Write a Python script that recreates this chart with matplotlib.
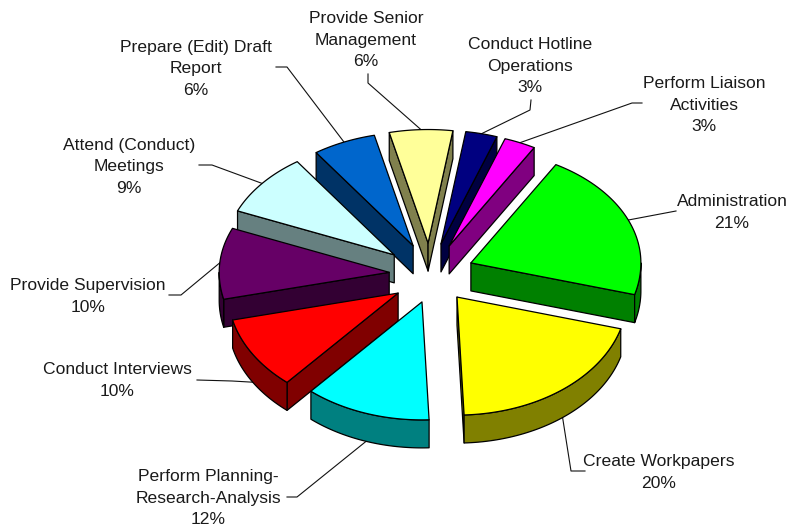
import numpy as np
import matplotlib
matplotlib.use("Agg")
import matplotlib.pyplot as plt

plt.rcParams['font.family'] = ['Liberation Sans', 'DejaVu Sans']

# ============ data ===================
names = ["Administration", "Create Workpapers", "Perform Planning-\nResearch-Analysis",
         "Conduct Interviews", "Provide Supervision", "Attend (Conduct)\nMeetings",
         "Prepare (Edit) Draft\nReport", "Provide Senior\nManagement",
         "Conduct Hotline\nOperations", "Perform Liaison\nActivities"]
values = [21, 20, 12, 10, 10, 9, 6, 6, 3, 3]
explode_x = [0.96, 0.945, 0.53, 0.81, 0.89, 1.0, 0.9, 1.0, 1.0, 1.0]
explode_y = [1.0, 0.88, 0.89, 1.09, 1.0, 1.0, 1.0, 1.0, 1.0, 1.0]
top_colors = ["#00ff00", "#ffff00", "#00ffff", "#ff0000", "#660066",
              "#ccffff", "#0066cc", "#ffff99", "#000080", "#ff00ff"]
side_colors = ["#008000", "#808000", "#008080", "#800000", "#330033",
               "#668080", "#003366", "#80804d", "#000040", "#800080"]

# label centre (x, first line y) and the leader's elbow points, pixels
label_pos = [(732, 200), (659, 460), (208, 475), (117, 368), (88, 284),
             (129, 144), (196, 46), (366, 17), (530, 43), (704, 82)]
leader_ends = [[(676, 211)], [(571, 471), (585, 471)], [(297, 497), (287, 497)],
               [(232, 381), (197, 380)], [(181, 295), (169, 295)], [(212, 165), (199, 165)],
               [(287, 67), (276, 67)], [(368, 83), (368, 74)],
               [(530, 110), (531, 100)], [(632, 103), (642, 103)]]

# ============ pie geometry ===================
CX, CY = 430, 275
RX = 170
RY_BACK, RY_FRONT = 113.5, 118  # the near half of the pie looks a bit deeper
EX, EY = 46, 32
DEPTH = 28
START = 30.0
LINE_H = 21.5
EDGE = "#000000"


def ell(t, ax0, ay0):
    r = np.radians(t)
    c = np.cos(r)
    return ax0 + RX * np.sin(r), ay0 - np.where(c > 0, RY_BACK, RY_FRONT) * c


fig = plt.figure(figsize=(7.87, 5.26), dpi=100)
ax = fig.add_axes([0, 0, 1, 1])
ax.set_xlim(0, 787)
ax.set_ylim(526, 0)
ax.axis("off")

angles = START + np.concatenate([[0], np.cumsum(values)]) * 3.6
mids = (angles[:-1] + angles[1:]) / 2

# back slices first so the front ones paint over them
order = np.argsort(-np.cos(np.radians(mids)))
for z, i in enumerate(order):
    t1, t2 = angles[i], angles[i + 1]
    mr = np.radians(mids[i])
    ax0 = CX + explode_x[i] * EX * np.sin(mr)
    ay0 = CY - explode_y[i] * EY * np.cos(mr)
    kw = dict(edgecolor=EDGE, linewidth=0.9, joinstyle="round", zorder=z + 2)

    # radial walls
    if np.sin(np.radians(t1)) < 0:
        px, py = ell(t1, ax0, ay0)
        ax.fill([ax0, px, px, ax0], [ay0, py, py + DEPTH, ay0 + DEPTH], facecolor=side_colors[i], **kw)
    if np.sin(np.radians(t2)) > 0:
        px, py = ell(t2, ax0, ay0)
        ax.fill([ax0, px, px, ax0], [ay0, py, py + DEPTH, ay0 + DEPTH], facecolor=side_colors[i], **kw)

    # outer rim, only the part facing the front
    lo, hi = max(t1, 90), min(t2, 270)
    if hi > lo:
        ts = np.linspace(lo, hi, 60)
        rx, ry = ell(ts, ax0, ay0)
        ax.fill(np.r_[rx, rx[::-1]], np.r_[ry, ry[::-1] + DEPTH], facecolor=side_colors[i], **kw)

    # top face
    ts = np.linspace(t1, t2, 60)
    rx, ry = ell(ts, ax0, ay0)
    ax.fill(np.r_[ax0, rx], np.r_[ay0, ry], facecolor=top_colors[i], **kw)

    # leader line from the middle of the arc out to the label
    sx, sy = ell(mids[i], ax0, ay0)
    if np.cos(mr) < 0:
        sy += DEPTH
    pts = [(float(sx), float(sy))] + leader_ends[i]
    ax.plot([p[0] for p in pts], [p[1] for p in pts], color="#111111", lw=0.8, zorder=1)

    # label lines
    lx, ly = label_pos[i]
    lines = names[i].split("\n") + [f"{values[i]}%"]
    for k, s in enumerate(lines):
        ax.text(lx, ly + k * LINE_H, s, ha="center", va="center_baseline",
                fontsize=12.6, color="#1a1a1a", zorder=20)

fig.savefig("out.png", dpi=100)
